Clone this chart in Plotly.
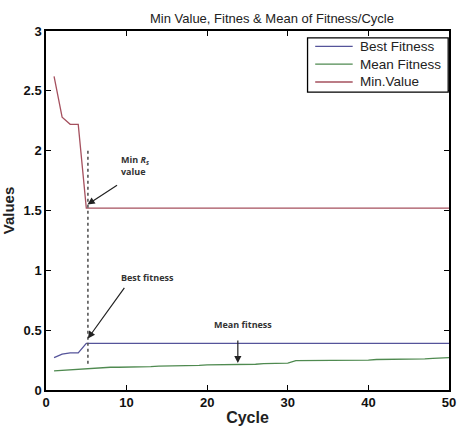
import plotly.graph_objects as go

cycles = list(range(1, 51))
min_value = [2.62, 2.28, 2.22, 2.22] + [1.52] * 46
best_fitness = [0.27, 0.30, 0.31, 0.31] + [0.39] * 46
mean_fitness = [0.16, 0.165, 0.165, 0.17, 0.18, 0.185, 0.185, 0.19, 0.19, 0.19,
                0.195, 0.195, 0.195, 0.20, 0.20, 0.20, 0.20, 0.205, 0.205, 0.21,
                0.21, 0.21, 0.215, 0.215, 0.215, 0.215, 0.22, 0.22, 0.22, 0.225,
                0.245, 0.245, 0.245, 0.245, 0.245, 0.25, 0.25, 0.25, 0.25, 0.25,
                0.255, 0.255, 0.255, 0.255, 0.26, 0.26, 0.26, 0.265, 0.265, 0.27]
series_names = ["Best Fitness", "Mean Fitness", "Min.Value"]
series_colors = ["#55549a", "#4f8a50", "#a5505e"]
x_ticks = [0, 10, 20, 30, 40, 50]
y_ticks = [0, 0.5, 1, 1.5, 2, 2.5, 3]
y_tick_labels = ["0", "0.5", "1", "1.5", "2", "2.5", "3"]

font = "Liberation Sans, Arial, sans-serif"

fig = go.Figure()
for name, color, values in zip(series_names, series_colors,
                               [best_fitness, mean_fitness, min_value]):
    fig.add_trace(go.Scatter(x=cycles, y=values, mode="lines", name=name,
                             showlegend=False, line=dict(color=color, width=1.3)))

# dashed marker line at the minimum
fig.add_trace(go.Scatter(x=[5.2, 5.2], y=[0.22, 2.0], mode="lines", showlegend=False,
                         line=dict(color="#555555", width=1.6, dash="dot"), hoverinfo="skip"))

ann_font = dict(family="Open Sans, Liberation Sans, sans-serif", size=9, color="#333333")
arrow_style = dict(showarrow=True, arrowhead=2, arrowsize=1.2, arrowwidth=1.2,
                   arrowcolor="#222222", xref="x", yref="y", axref="x", ayref="y",
                   font=dict(size=1))
fig.add_annotation(x=5.15, y=1.55, ax=9.0, ay=1.72, text=" ", **arrow_style)
fig.add_annotation(x=9.0, y=1.88, xref="x", yref="y", xanchor="left", showarrow=False,
                   text="<b>Min <i>R<sub>s</sub></i><br>value</b>", align="left", font=ann_font)
fig.add_annotation(x=5.2, y=0.43, ax=9.9, ay=0.87, text=" ", **arrow_style)
fig.add_annotation(x=9.0, y=0.94, xref="x", yref="y", xanchor="left", showarrow=False,
                   text="<b>Best fitness</b>", font=ann_font)
fig.add_annotation(x=23.8, y=0.225, ax=23.8, ay=0.43, text=" ", **arrow_style)
fig.add_annotation(x=24.5, y=0.55, xref="x", yref="y", showarrow=False,
                   text="<b>Mean fitness</b>", font=ann_font)

# MATLAB-style legend box drawn in paper coordinates
fig.add_shape(type="rect", xref="paper", yref="paper", x0=0.649, x1=0.998, y0=0.830, y1=0.981,
              line=dict(color="black", width=1.3), fillcolor="white", layer="above")
row_y = [0.957, 0.908, 0.858]
for name, color, yy in zip(series_names, series_colors, row_y):
    fig.add_shape(type="line", xref="paper", yref="paper", x0=0.668, x1=0.761, y0=yy, y1=yy,
                  line=dict(color=color, width=1.3), layer="above")
    fig.add_annotation(x=0.773, y=yy, xref="paper", yref="paper", xanchor="left",
                       yanchor="middle", showarrow=False, text=name,
                       font=dict(family=font, size=13.5, color="#222222"))

axis_common = dict(showgrid=False, zeroline=False, showline=True, linecolor="black",
                   linewidth=1.5, mirror="ticks", ticks="inside", ticklen=5,
                   tickcolor="black", ticklabeloverflow="allow",
                   tickfont=dict(family=font, size=13, color="#111111", weight="bold"))

fig.update_layout(
    width=461, height=432,
    margin=dict(l=46, r=5, t=31, b=42),
    paper_bgcolor="white", plot_bgcolor="white",
    title=dict(text="Min Value, Fitnes & Mean of Fitness/Cycle", x=0.59, xanchor="center",
               y=0.958, yanchor="middle", font=dict(family=font, size=13, color="#222222")),
    xaxis=dict(range=[0, 50], tickvals=x_ticks, **axis_common,
               title=dict(text="Cycle", font=dict(family=font, size=16, color="#222222",
                                                  weight="bold"),
                          standoff=2)),
    yaxis=dict(range=[0, 3], tickvals=y_ticks, ticktext=y_tick_labels, **axis_common,
               title=dict(text="Values", font=dict(family=font, size=15, color="#222222",
                                                   weight="bold"),
                          standoff=5)),
    showlegend=False,
)

fig.write_html("out.html")
